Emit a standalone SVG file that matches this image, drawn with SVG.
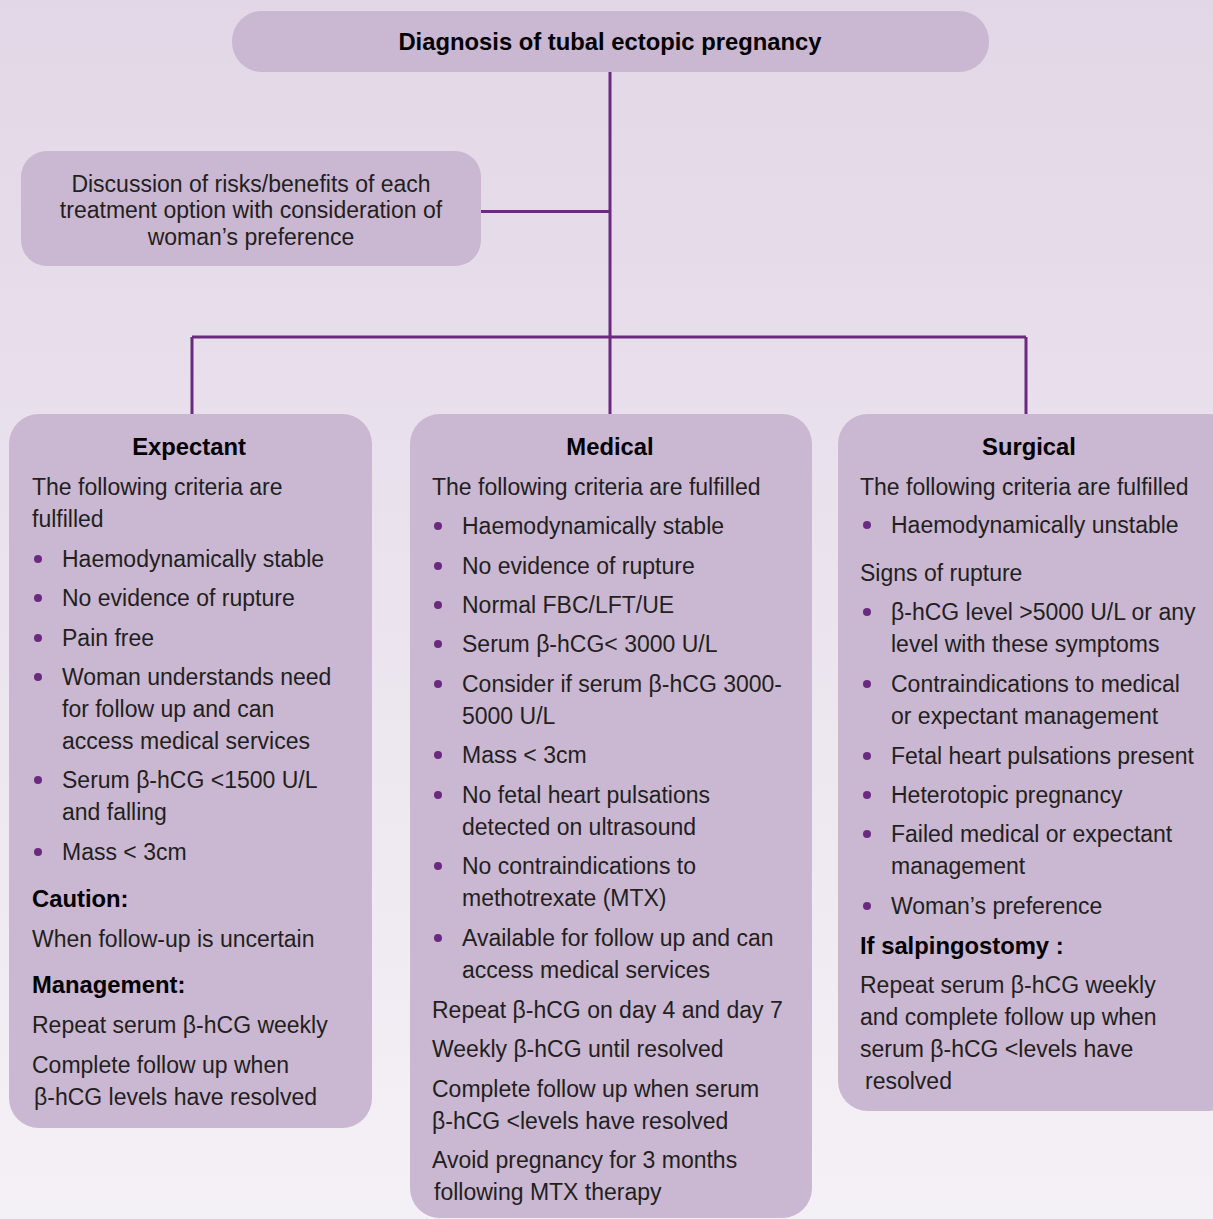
<svg xmlns="http://www.w3.org/2000/svg" width="1213" height="1219" viewBox="0 0 1213 1219">
<defs>
<linearGradient id="bg" x1="0" y1="0" x2="0" y2="1">
<stop offset="0" stop-color="#e2d7e6"/>
<stop offset="1" stop-color="#f4f1f6"/>
</linearGradient>
<style>
.box{fill:#cab7d2;}
.t{font-family:"Liberation Sans",Arial,sans-serif;font-size:23px;fill:#231f20;}
.b{font-family:"Liberation Sans",Arial,sans-serif;font-size:23.8px;font-weight:bold;fill:#000;}
.c{text-anchor:middle;}
.dot{fill:#6a2a80;}
.conn{stroke:#6a2a80;stroke-width:3;fill:none;}
</style>
</defs>
<rect x="0" y="0" width="1213" height="1219" fill="url(#bg)"/>
<g id="connectors">
<path class="conn" d="M610 72 V414 M481 211.5 H610 M192 337 H1026 M192 337 V414 M1026 337 V414"/>
</g>
<g id="diagnosis">
<rect class="box" x="232" y="11" width="757" height="61" rx="30"/>
<text class="b c" x="610" y="50">Diagnosis of tubal ectopic pregnancy</text>
</g>
<g id="discussion">
<rect class="box" x="21" y="151" width="460" height="115" rx="26"/>
<text class="t c" x="251" y="192">Discussion of risks/benefits of each</text>
<text class="t c" x="251" y="218">treatment option with consideration of</text>
<text class="t c" x="251" y="245">woman’s preference</text>
</g>
<g id="expectant">
<rect class="box" x="9" y="414" width="363" height="714" rx="30"/>
<text class="b c" x="189" y="455">Expectant</text>
<text class="t" x="32" y="495">The following criteria are</text>
<text class="t" x="32" y="527">fulfilled</text>
<circle class="dot" cx="38" cy="559" r="4"/>
<text class="t" x="62" y="567">Haemodynamically stable</text>
<circle class="dot" cx="38" cy="598" r="4"/>
<text class="t" x="62" y="606">No evidence of rupture</text>
<circle class="dot" cx="38" cy="638" r="4"/>
<text class="t" x="62" y="646">Pain free</text>
<circle class="dot" cx="38" cy="677" r="4"/>
<text class="t" x="62" y="685">Woman understands need</text>
<text class="t" x="62" y="717">for follow up and can</text>
<text class="t" x="62" y="749">access medical services</text>
<circle class="dot" cx="38" cy="780" r="4"/>
<text class="t" x="62" y="788">Serum β-hCG &lt;1500 U/L</text>
<text class="t" x="62" y="820">and falling</text>
<circle class="dot" cx="38" cy="852" r="4"/>
<text class="t" x="62" y="860">Mass &lt; 3cm</text>
<text class="b" x="32" y="907">Caution:</text>
<text class="t" x="32" y="947">When follow-up is uncertain</text>
<text class="b" x="32" y="993">Management:</text>
<text class="t" x="32" y="1033">Repeat serum β-hCG weekly</text>
<text class="t" x="32" y="1073">Complete follow up when</text>
<text class="t" x="34" y="1105">β-hCG levels have resolved</text>
</g>
<g id="medical">
<rect class="box" x="410" y="414" width="402" height="804" rx="30"/>
<text class="b c" x="610" y="455">Medical</text>
<text class="t" x="432" y="495">The following criteria are fulfilled</text>
<circle class="dot" cx="438" cy="526" r="4"/>
<text class="t" x="462" y="534">Haemodynamically stable</text>
<circle class="dot" cx="438" cy="566" r="4"/>
<text class="t" x="462" y="574">No evidence of rupture</text>
<circle class="dot" cx="438" cy="605" r="4"/>
<text class="t" x="462" y="613">Normal FBC/LFT/UE</text>
<circle class="dot" cx="438" cy="644" r="4"/>
<text class="t" x="462" y="652">Serum β-hCG&lt; 3000 U/L</text>
<circle class="dot" cx="438" cy="684" r="4"/>
<text class="t" x="462" y="692">Consider if serum β-hCG 3000-</text>
<text class="t" x="462" y="724">5000 U/L</text>
<circle class="dot" cx="438" cy="755" r="4"/>
<text class="t" x="462" y="763">Mass &lt; 3cm</text>
<circle class="dot" cx="438" cy="795" r="4"/>
<text class="t" x="462" y="803">No fetal heart pulsations</text>
<text class="t" x="462" y="835">detected on ultrasound</text>
<circle class="dot" cx="438" cy="866" r="4"/>
<text class="t" x="462" y="874">No contraindications to</text>
<text class="t" x="462" y="906">methotrexate (MTX)</text>
<circle class="dot" cx="438" cy="938" r="4"/>
<text class="t" x="462" y="946">Available for follow up and can</text>
<text class="t" x="462" y="978">access medical services</text>
<text class="t" x="432" y="1018">Repeat β-hCG on day 4 and day 7</text>
<text class="t" x="432" y="1057">Weekly β-hCG until resolved</text>
<text class="t" x="432" y="1097">Complete follow up when serum</text>
<text class="t" x="432" y="1129">β-hCG &lt;levels have resolved</text>
<text class="t" x="432" y="1168">Avoid pregnancy for 3 months</text>
<text class="t" x="434" y="1200">following MTX therapy</text>
</g>
<g id="surgical">
<rect class="box" x="838" y="414" width="400" height="697" rx="30"/>
<text class="b c" x="1029" y="455">Surgical</text>
<text class="t" x="860" y="495">The following criteria are fulfilled</text>
<circle class="dot" cx="867" cy="525" r="4"/>
<text class="t" x="891" y="533">Haemodynamically unstable</text>
<text class="t" x="860" y="581">Signs of rupture</text>
<circle class="dot" cx="867" cy="612" r="4"/>
<text class="t" x="891" y="620">β-hCG level &gt;5000 U/L or any</text>
<text class="t" x="891" y="652">level with these symptoms</text>
<circle class="dot" cx="867" cy="684" r="4"/>
<text class="t" x="891" y="692">Contraindications to medical</text>
<text class="t" x="891" y="724">or expectant management</text>
<circle class="dot" cx="867" cy="756" r="4"/>
<text class="t" x="891" y="764">Fetal heart pulsations present</text>
<circle class="dot" cx="867" cy="795" r="4"/>
<text class="t" x="891" y="803">Heterotopic pregnancy</text>
<circle class="dot" cx="867" cy="834" r="4"/>
<text class="t" x="891" y="842">Failed medical or expectant</text>
<text class="t" x="891" y="874">management</text>
<circle class="dot" cx="867" cy="906" r="4"/>
<text class="t" x="891" y="914">Woman’s preference</text>
<text class="b" x="860" y="954">If salpingostomy :</text>
<text class="t" x="860" y="993">Repeat serum β-hCG weekly</text>
<text class="t" x="860" y="1025">and complete follow up when</text>
<text class="t" x="860" y="1057">serum β-hCG &lt;levels have</text>
<text class="t" x="865" y="1089">resolved</text>
</g>
</svg>
